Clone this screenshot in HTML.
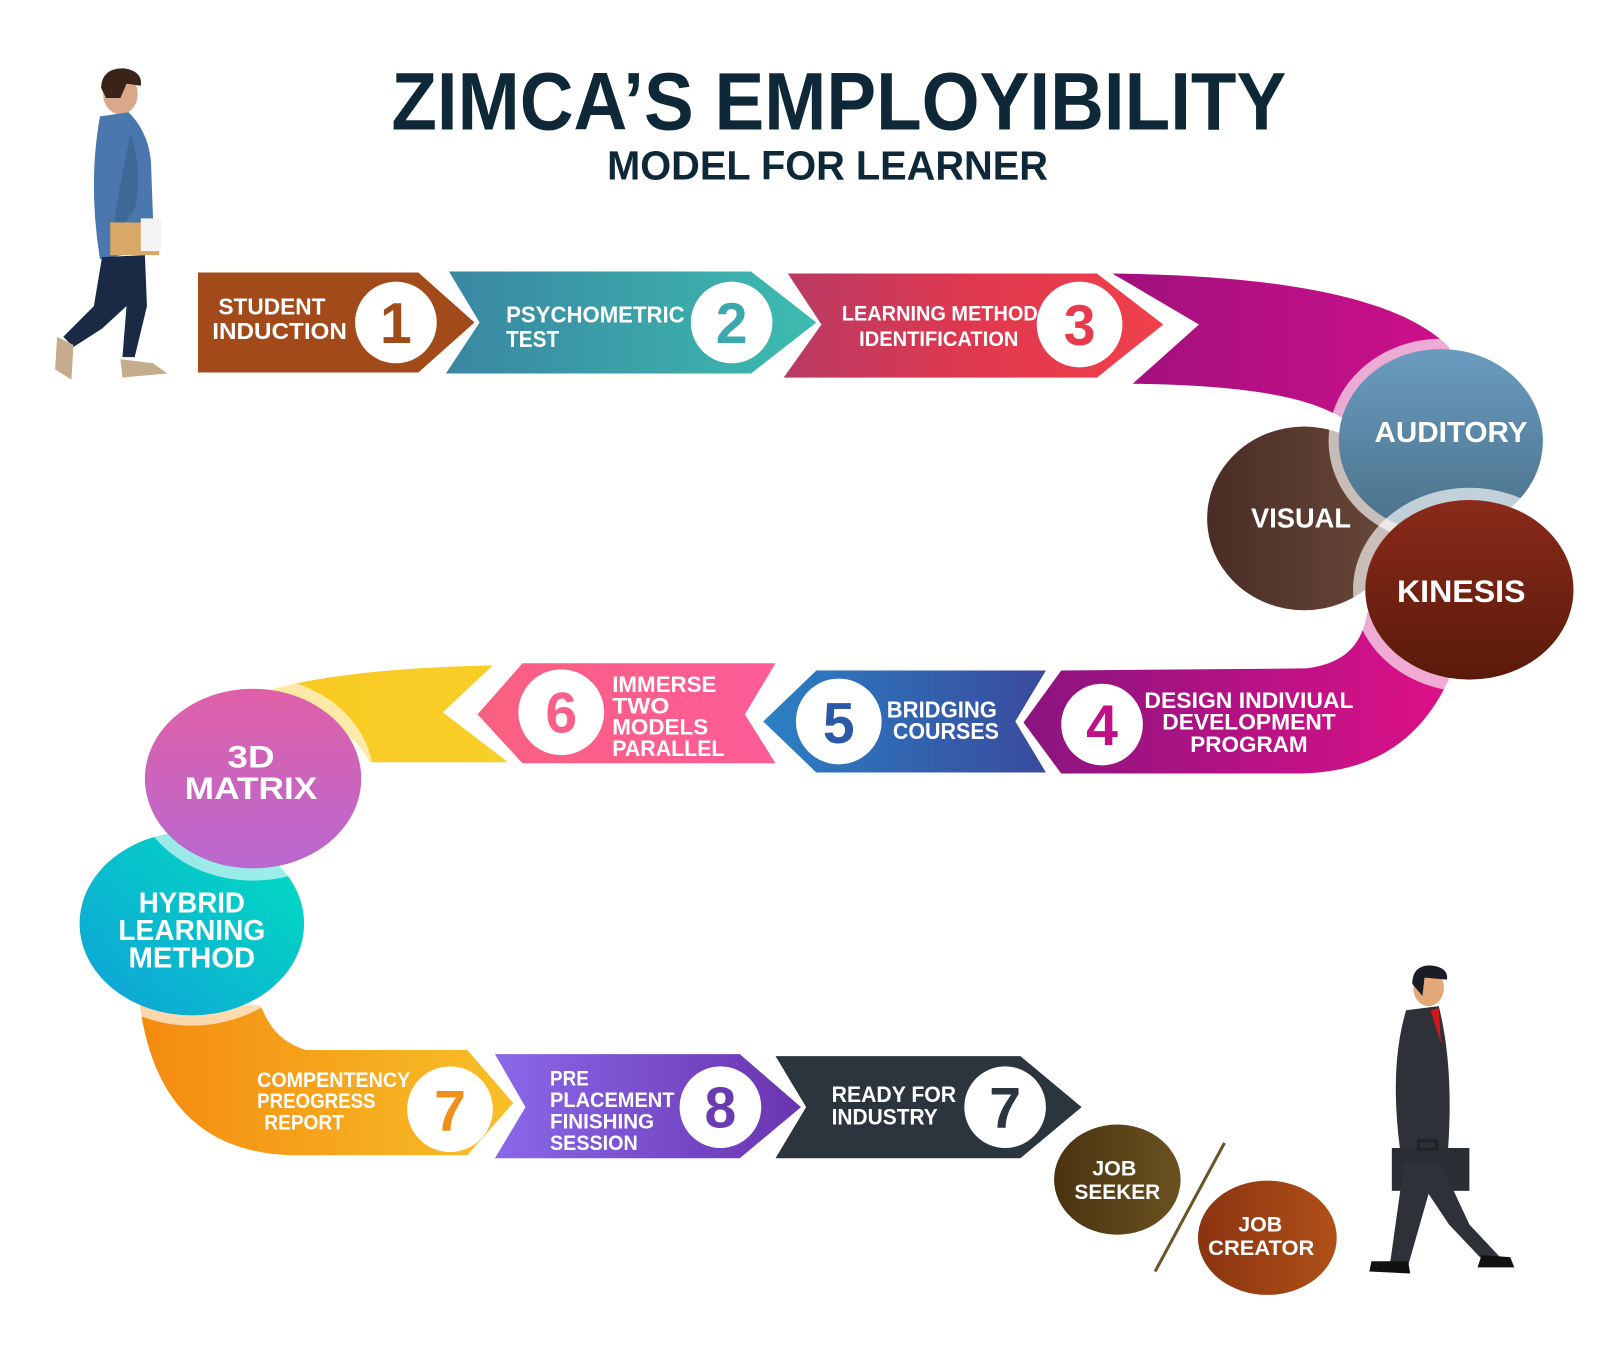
<!DOCTYPE html>
<html><head><meta charset="utf-8"><style>
html,body{margin:0;padding:0;background:#fff;width:1600px;height:1347px;overflow:hidden}
svg{display:block}
text{font-family:"Liberation Sans",sans-serif;font-weight:bold}
.w{fill:#fff}
.n{font-family:"Liberation Sans Narrow","Liberation Sans",sans-serif;font-weight:bold;fill:#fff}
</style></head><body>
<svg width="1600" height="1347" viewBox="0 0 1568 1320" xmlns="http://www.w3.org/2000/svg">
<defs>
<linearGradient id="g2" x1="0" x2="1"><stop offset="0" stop-color="#3a86a2"/><stop offset="1" stop-color="#3cbcb0"/></linearGradient>
<linearGradient id="g3" x1="0" x2="1"><stop offset="0" stop-color="#b83a64"/><stop offset="0.5" stop-color="#e0384e"/><stop offset="1" stop-color="#f0404c"/></linearGradient>
<linearGradient id="gm" x1="0" x2="1"><stop offset="0" stop-color="#a0107e"/><stop offset="1" stop-color="#d0108a"/></linearGradient>
<linearGradient id="g4" x1="0" x2="1"><stop offset="0" stop-color="#8a1480"/><stop offset="1" stop-color="#e01088"/></linearGradient>
<linearGradient id="g5" x1="0" x2="1"><stop offset="0" stop-color="#2a80c4"/><stop offset="1" stop-color="#3a4a9e"/></linearGradient>
<linearGradient id="g6" x1="0" x2="1"><stop offset="0" stop-color="#f86080"/><stop offset="1" stop-color="#ff5c98"/></linearGradient>
<linearGradient id="gy" x1="0" x2="1"><stop offset="0" stop-color="#f8c820"/><stop offset="1" stop-color="#f8d028"/></linearGradient>
<linearGradient id="go" x1="0" x2="1"><stop offset="0" stop-color="#f48a10"/><stop offset="1" stop-color="#f8c028"/></linearGradient>
<linearGradient id="g8" x1="0" x2="1"><stop offset="0" stop-color="#8a68e8"/><stop offset="1" stop-color="#6a34b0"/></linearGradient>
<linearGradient id="ga" x1="0" y1="0" x2="0" y2="1"><stop offset="0" stop-color="#6a9cc0"/><stop offset="1" stop-color="#4a7088"/></linearGradient>
<linearGradient id="gv" x1="0" x2="1"><stop offset="0" stop-color="#4a2c26"/><stop offset="1" stop-color="#6a4a3a"/></linearGradient>
<linearGradient id="gk" x1="0" y1="0" x2="0" y2="1"><stop offset="0" stop-color="#8a2a1a"/><stop offset="1" stop-color="#5a1a0a"/></linearGradient>
<linearGradient id="gd" x1="0" y1="0" x2="0" y2="1"><stop offset="0" stop-color="#e060a8"/><stop offset="1" stop-color="#b868d0"/></linearGradient>
<linearGradient id="gh" x1="1" y1="0" x2="0" y2="1"><stop offset="0" stop-color="#00e0c0"/><stop offset="1" stop-color="#10a0d8"/></linearGradient>
<linearGradient id="gs" x1="0" x2="1"><stop offset="0" stop-color="#4a3210"/><stop offset="1" stop-color="#6a5220"/></linearGradient>
<linearGradient id="gc" x1="0" x2="1"><stop offset="0" stop-color="#8a3410"/><stop offset="1" stop-color="#b05018"/></linearGradient>
</defs>

<text x="822" y="127" text-anchor="middle" font-size="80" fill="#0e2838" textLength="877" lengthAdjust="spacingAndGlyphs">ZIMCA’S EMPLOYIBILITY</text>
<text x="811" y="176" text-anchor="middle" font-size="40" fill="#0e2838" textLength="432" lengthAdjust="spacingAndGlyphs">MODEL FOR LEARNER</text>

<polygon points="194,267 410,267 465,316 410,365 194,365" fill="#a24a1a"/>
<circle cx="388" cy="316" r="40" fill="#fff"/>
<text x="388" y="336" text-anchor="middle" font-size="56" fill="#a24a1a">1</text>
<text class="n" x="214" y="308" font-size="23" textLength="105" lengthAdjust="spacingAndGlyphs">STUDENT</text>
<text class="n" x="208" y="332" font-size="23" textLength="132" lengthAdjust="spacingAndGlyphs">INDUCTION</text>

<polygon points="440,266 736,266 800,316 736,366 437,366 470,316" fill="url(#g2)"/>
<circle cx="717" cy="316" r="40" fill="#fff"/>
<text x="717" y="336" text-anchor="middle" font-size="56" fill="#3aa8ac">2</text>
<text class="n" x="496" y="316" font-size="23" textLength="175" lengthAdjust="spacingAndGlyphs">PSYCHOMETRIC</text>
<text class="n" x="496" y="340" font-size="23" textLength="52" lengthAdjust="spacingAndGlyphs">TEST</text>

<polygon points="772,268 1075,268 1140,318 1075,370 768,370 805,318" fill="url(#g3)"/>
<circle cx="1058" cy="318" r="42" fill="#fff"/>
<text x="1058" y="338" text-anchor="middle" font-size="56" fill="#e83a4c">3</text>
<text class="n" x="825" y="314" font-size="21" textLength="192" lengthAdjust="spacingAndGlyphs">LEARNING METHOD</text>
<text class="n" x="842" y="339" font-size="21" textLength="156" lengthAdjust="spacingAndGlyphs">IDENTIFICATION</text>

<path d="M1090,268 C1250,270 1370,290 1420,340 L1430,380 L1330,420 C1300,395 1250,378 1110,376 L1175,318 Z" fill="url(#gm)"/>
<path d="M1040,657 L1280,655 C1320,650 1335,630 1340,600 L1430,640 C1400,730 1340,758 1270,758 L1040,758 L1003,708 Z" fill="url(#g4)"/>
<circle cx="1080" cy="710" r="40" fill="#fff"/>
<text x="1080" y="730" text-anchor="middle" font-size="56" fill="#c01088">4</text>
<text class="n" x="1224" y="694" text-anchor="middle" font-size="22" textLength="205" lengthAdjust="spacingAndGlyphs">DESIGN INDIVIUAL</text>
<text class="n" x="1224" y="715" text-anchor="middle" font-size="22" textLength="170" lengthAdjust="spacingAndGlyphs">DEVELOPMENT</text>
<text class="n" x="1224" y="737" text-anchor="middle" font-size="22" textLength="115" lengthAdjust="spacingAndGlyphs">PROGRAM</text>

<ellipse cx="1278" cy="508" rx="95" ry="90" fill="url(#gv)"/>
<text class="w" x="1275" y="517" text-anchor="middle" font-size="27" textLength="98" lengthAdjust="spacingAndGlyphs">VISUAL</text>
<ellipse cx="1412" cy="432" rx="110" ry="100" fill="#fff" opacity="0.65"/>
<ellipse cx="1412" cy="432" rx="100" ry="90" fill="url(#ga)"/>
<text class="w" x="1422" y="433" text-anchor="middle" font-size="28" textLength="150" lengthAdjust="spacingAndGlyphs">AUDITORY</text>
<ellipse cx="1440" cy="578" rx="114" ry="100" fill="#fff" opacity="0.65"/>
<ellipse cx="1440" cy="578" rx="102" ry="88" fill="url(#gk)"/>
<text class="w" x="1432" y="590" text-anchor="middle" font-size="31" textLength="126" lengthAdjust="spacingAndGlyphs">KINESIS</text>

<polygon points="748,707 800,657 1025,657 995,707 1025,757 800,757" fill="url(#g5)"/>
<circle cx="822" cy="707" r="42" fill="#fff"/>
<text x="822" y="728" text-anchor="middle" font-size="56" fill="#2c58a8">5</text>
<text class="n" x="923" y="703" text-anchor="middle" font-size="23" textLength="108" lengthAdjust="spacingAndGlyphs">BRIDGING</text>
<text class="n" x="927" y="724" text-anchor="middle" font-size="23" textLength="104" lengthAdjust="spacingAndGlyphs">COURSES</text>

<polygon points="468,700 512,650 760,650 730,700 760,748 512,748" fill="url(#g6)"/>
<circle cx="550" cy="698" r="42" fill="#fff"/>
<text x="550" y="718" text-anchor="middle" font-size="56" fill="#f8608a">6</text>
<text class="n" x="600" y="678" font-size="22" textLength="102" lengthAdjust="spacingAndGlyphs">IMMERSE</text>
<text class="n" x="600" y="699" font-size="22" textLength="56" lengthAdjust="spacingAndGlyphs">TWO</text>
<text class="n" x="600" y="720" font-size="22" textLength="94" lengthAdjust="spacingAndGlyphs">MODELS</text>
<text class="n" x="600" y="741" font-size="22" textLength="110" lengthAdjust="spacingAndGlyphs">PARALLEL</text>

<path d="M250,680 Q330,655 483,652 L434,698 L498,747 L362,747 Q340,700 250,690 Z" fill="url(#gy)"/>
<path d="M137,985 C150,1080 200,1135 300,1132 L458,1132 L503,1081 L458,1029 L300,1029 C270,1020 262,1000 255,985 Z" fill="url(#go)"/>
<circle cx="441" cy="1087" r="42" fill="#fff"/>
<text x="441" y="1108" text-anchor="middle" font-size="56" fill="#f0901a">7</text>
<text class="n" x="252" y="1065" font-size="21" textLength="150" lengthAdjust="spacingAndGlyphs">COMPENTENCY</text>
<text class="n" x="252" y="1086" font-size="21" textLength="116" lengthAdjust="spacingAndGlyphs">PREOGRESS</text>
<text class="n" x="259" y="1107" font-size="21" textLength="78" lengthAdjust="spacingAndGlyphs">REPORT</text>

<ellipse cx="188" cy="905" rx="120" ry="100" fill="#fff" opacity="0.65"/>
<ellipse cx="188" cy="905" rx="110" ry="90" fill="url(#gh)"/>
<text class="w" x="188" y="894" text-anchor="middle" font-size="28" textLength="104" lengthAdjust="spacingAndGlyphs">HYBRID</text>
<text class="w" x="188" y="921" text-anchor="middle" font-size="28" textLength="144" lengthAdjust="spacingAndGlyphs">LEARNING</text>
<text class="w" x="188" y="948" text-anchor="middle" font-size="28" textLength="124" lengthAdjust="spacingAndGlyphs">METHOD</text>
<ellipse cx="248" cy="763" rx="118" ry="100" fill="#fff" opacity="0.6"/>
<ellipse cx="248" cy="763" rx="106" ry="88" fill="url(#gd)"/>
<text class="w" x="246" y="752" text-anchor="middle" font-size="31" textLength="46" lengthAdjust="spacingAndGlyphs">3D</text>
<text class="w" x="246" y="783" text-anchor="middle" font-size="31" textLength="130" lengthAdjust="spacingAndGlyphs">MATRIX</text>

<polygon points="485,1033 725,1033 785,1085 725,1135 485,1135 515,1085" fill="url(#g8)"/>
<circle cx="706" cy="1085" r="40" fill="#fff"/>
<text x="706" y="1105" text-anchor="middle" font-size="56" fill="#6a3ab0">8</text>
<text class="n" x="539" y="1064" font-size="21" textLength="38" lengthAdjust="spacingAndGlyphs">PRE</text>
<text class="n" x="539" y="1085" font-size="21" textLength="122" lengthAdjust="spacingAndGlyphs">PLACEMENT</text>
<text class="n" x="539" y="1106" font-size="21" textLength="102" lengthAdjust="spacingAndGlyphs">FINISHING</text>
<text class="n" x="539" y="1127" font-size="21" textLength="86" lengthAdjust="spacingAndGlyphs">SESSION</text>

<polygon points="760,1035 1000,1035 1060,1085 1000,1135 760,1135 790,1085" fill="#2c343e"/>
<circle cx="985" cy="1085" r="40" fill="#fff"/>
<text x="985" y="1105" text-anchor="middle" font-size="56" fill="#2c343e">7</text>
<text class="n" x="815" y="1080" font-size="22" textLength="122" lengthAdjust="spacingAndGlyphs">READY FOR</text>
<text class="n" x="815" y="1102" font-size="22" textLength="104" lengthAdjust="spacingAndGlyphs">INDUSTRY</text>

<ellipse cx="1095" cy="1156" rx="62" ry="54" fill="url(#gs)"/>
<text class="w" x="1092" y="1152" text-anchor="middle" font-size="21">JOB</text>
<text class="w" x="1095" y="1175" text-anchor="middle" font-size="21" textLength="84" lengthAdjust="spacingAndGlyphs">SEEKER</text>
<line x1="1200" y1="1120" x2="1132" y2="1246" stroke="#6a5428" stroke-width="3"/>
<ellipse cx="1242" cy="1213" rx="68" ry="56" fill="url(#gc)"/>
<text class="w" x="1235" y="1207" text-anchor="middle" font-size="21">JOB</text>
<text class="w" x="1236" y="1230" text-anchor="middle" font-size="21" textLength="104" lengthAdjust="spacingAndGlyphs">CREATOR</text>

<!-- student -->
<g>
<ellipse cx="118" cy="92" rx="17" ry="20" fill="#d8a888"/>
<path d="M99,86 Q100,66 122,67 Q140,70 138,84 L124,82 L118,96 L104,96 Z" fill="#3a2418"/>
<path d="M98,114 L126,110 Q146,130 148,160 L150,215 L146,245 L98,254 Q86,180 98,114 Z" fill="#4a78ae"/>
<path d="M128,130 Q140,170 132,205 L120,222 L112,216 L118,180 Z" fill="#3e6898"/>
<rect x="108" y="218" width="48" height="32" fill="#d8a868"/>
<rect x="138" y="214" width="20" height="32" fill="#f4f4f4"/>
<path d="M100,252 L142,250 L144,300 L132,350 L120,350 L124,300 L100,322 L72,340 L62,330 L92,300 Z" fill="#1a2a44"/>
<path d="M56,330 L72,338 L70,372 L54,362 Z" fill="#c4ac8c"/>
<path d="M118,352 L150,356 L164,366 L120,370 Z" fill="#c4ac8c"/>
</g>
<!-- businessman -->
<g>
<ellipse cx="1400" cy="968" rx="15" ry="18" fill="#e4a878"/>
<path d="M1384,964 Q1384,946 1402,946 Q1420,948 1418,960 L1396,958 L1394,976 Z" fill="#1a1e24"/>
<path d="M1378,990 L1410,986 Q1426,1050 1418,1140 L1374,1140 Q1360,1050 1378,990 Z" fill="#2e3238"/>
<path d="M1402,990 L1412,1022 L1410,988 Z" fill="#d01818"/>
<rect x="1364" y="1125" width="76" height="42" fill="#2a2e34"/>
<path d="M1390,1118 L1408,1118 L1408,1126 L1390,1126 Z" fill="none" stroke="#222" stroke-width="3"/>
<path d="M1376,1140 L1412,1140 L1440,1200 L1470,1232 L1456,1238 L1420,1200 L1400,1170 L1380,1240 L1362,1240 Z" fill="#2e3238"/>
<path d="M1344,1236 L1380,1236 L1382,1248 L1342,1246 Z" fill="#111"/>
<path d="M1452,1230 L1480,1232 L1484,1242 L1448,1242 Z" fill="#111"/>
</g>
</svg>
</body></html>
